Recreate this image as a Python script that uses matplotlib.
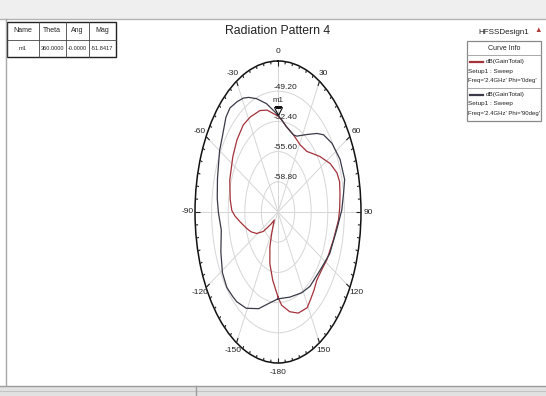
import numpy as np
import matplotlib
matplotlib.use("Agg")
import matplotlib.pyplot as plt
from matplotlib.patches import Rectangle
from matplotlib.lines import Line2D
from matplotlib.transforms import offset_copy

plt.rcParams['font.family'] = ['Liberation Sans Narrow', 'Liberation Sans', 'DejaVu Sans']

# ---- data -------------------------------------------------------------
# Phi = 0 deg cut (theta in degrees, gain in dB)
theta_phi0 = [-180, -172, -164, -157, -152, -146, -140, -134, -130, -126, -119,
              -112, -106, -98, -93, -89, -82, -70, -56, -46, -36, -28, -18,
              -11, 0, 4, 10, 20, 31, 41, 48, 54, 63, 70, 75, 81, 88, 94, 105,
              118, 127, 134, 140, 146, 151, 160, 168, 176]
gain_phi0 = [-53.0, -54.7, -56.3, -58.0, -59.4, -60.4, -60.9, -60.2, -59.6,
             -58.5, -57.3, -56.4, -55.7, -54.6, -53.7, -53.1, -52.7, -52.1,
             -51.5, -51.0, -50.6, -50.6, -50.7, -51.0, -51.84, -52.2, -52.8,
             -53.3, -53.7, -53.5, -52.8, -52.0, -50.7, -49.9, -49.7, -49.9,
             -50.1, -50.3, -50.9, -51.3, -51.6, -51.6, -51.2, -50.8, -50.4,
             -50.6, -51.2, -52.1]

# Phi = 90 deg cut
theta_phi90 = [-180, -169, -160, -149, -140, -136, -129, -121, -111, -100, -90,
               -83, -73, -60, -53, -45, -40, -34, -29, -25, -19, -11, -3, 4,
               10, 20, 24, 34, 42, 47, 55, 65, 75, 81, 89, 99, 114, 127, 142,
               152, 166]
gain_phi90 = [-52.8, -52.1, -51.1, -50.1, -49.6, -49.5, -49.3, -49.5, -50.2,
              -50.9, -50.5, -50.2, -49.8, -49.0, -48.6, -47.8, -47.6, -47.9,
              -48.2, -48.6, -49.3, -50.3, -51.4, -52.2, -52.8, -53.3, -53.2,
              -52.1, -50.8, -50.0, -49.3, -48.8, -48.7, -49.2, -49.7, -50.5,
              -51.1, -51.8, -52.0, -52.3, -52.7]

r_min, r_max = -62.0, -46.0
r_ticks = [-58.8, -55.6, -52.4, -49.2]
theta_ticks = [0, 30, 60, 90, 120, 150, -180, -150, -120, -90, -60, -30]

marker_name = "m1"
marker_theta = 360.0
marker_ang = -0.0
marker_mag = -51.8417

table_header = ["Name", "Theta", "Ang", "Mag"]
table_row = [marker_name, f"{marker_theta:.4f}", "-0.0000", f"{marker_mag:.4f}"]

curve_names = ["dB(GainTotal)", "dB(GainTotal)"]
curve_setups = ["Setup1 : Sweep", "Setup1 : Sweep"]
curve_freqs = ["Freq='2.4GHz' Phi='0deg'", "Freq='2.4GHz' Phi='90deg'"]
curve_colors = ["#a3323a", "#3a3a48"]

# ---- figure -----------------------------------------------------------
W, H = 546, 396
fig = plt.figure(figsize=(W / 100, H / 100), dpi=100)
fig.patch.set_facecolor("white")


def fx(px):
    return px / W


def fy(py):
    return 1 - py / H


# window chrome
fig.add_artist(Rectangle((0, fy(19)), 1, 19 / H, transform=fig.transFigure,
                         facecolor="#efefef", edgecolor="none", zorder=0))
fig.add_artist(Line2D([0, 1], [fy(19), fy(19)], transform=fig.transFigure,
                      color="#b4b4b4", lw=1.0))
fig.add_artist(Line2D([fx(5.5), fx(5.5)], [fy(19), fy(385)], transform=fig.transFigure,
                      color="#a8a8a8", lw=1.0))
fig.add_artist(Rectangle((0, 0), 1, 10 / H, transform=fig.transFigure,
                         facecolor="#e2e2e2", edgecolor="none", zorder=0))
fig.add_artist(Line2D([0, 1], [fy(386), fy(386)], transform=fig.transFigure,
                      color="#9c9c9c", lw=1.0))
fig.add_artist(Line2D([0, 1], [fy(391), fy(391)], transform=fig.transFigure,
                      color="#c4c4c4", lw=0.8))
fig.add_artist(Line2D([fx(196), fx(196)], [fy(386), 0], transform=fig.transFigure,
                      color="#9c9c9c", lw=1.0))

# ---- polar axes (stretched to an ellipse) ------------------------------
ax_w, ax_h = 166, 302
ax = fig.add_axes([fx(195), 33 / H, ax_w / W, ax_h / H], projection="polar")
ax.set_aspect("auto")
ax.set_theta_zero_location("N")
ax.set_theta_direction(-1)
ax.set_ylim(r_min, r_max)
ax.set_facecolor("white")

ax.set_yticks(r_ticks)
ax.set_yticklabels([])
ax.set_xticks(np.deg2rad(np.arange(0, 360, 30)))
ax.set_xticklabels([])
ax.grid(True, color="#d6d6d6", lw=0.7)
ax.tick_params(axis="both", length=0)
ax.spines["polar"].set_color("#111111")
ax.spines["polar"].set_linewidth(1.1)

# short inward rim ticks, constant length in pixels on the ellipse
rx, ry = ax_w / 2, ax_h / 2
for deg in range(0, 360, 5):
    a = np.deg2rad(deg)
    length_px = 5.0 if deg % 30 == 0 else 2.8
    scale = np.hypot(rx * np.sin(a), ry * np.cos(a))
    dr = length_px / scale * (r_max - r_min)
    ax.plot([a, a], [r_max, r_max - dr], color="#222222", lw=0.8,
            solid_capstyle="butt", clip_on=False, zorder=4)

# radial level labels along the 0 deg spoke
for rv in r_ticks:
    ax.annotate(f"{rv:.2f}", (0, rv), xytext=(8, 4), textcoords="offset pixels",
                ha="center", va="center", fontsize=6.0, color="#222222")

# angle labels around the rim
for t in theta_ticks:
    a = np.deg2rad(t)
    ax.annotate(f"{t:d}", (a, r_max), xytext=(7.5 * np.sin(a), 9.5 * np.cos(a)),
                textcoords="offset pixels", ha="center", va="center",
                fontsize=6.0, color="#222222", annotation_clip=False)

# curves
for th, g, c in [(theta_phi0, gain_phi0, curve_colors[0]),
                 (theta_phi90, gain_phi90, curve_colors[1])]:
    th_c = np.deg2rad(np.append(th, th[0] + 360))
    g_c = np.append(g, g[0])
    ax.plot(th_c, g_c, color=c, lw=0.9, zorder=5)

# marker m1
m_tr = offset_copy(ax.transData, fig=fig, x=0, y=5, units="dots")
ax.plot(np.deg2rad(marker_theta), marker_mag, marker="v", ms=5.5, mfc="none",
        mec="#111111", mew=0.8, transform=m_tr, zorder=6)
ax.annotate(marker_name, (np.deg2rad(marker_theta), marker_mag), xytext=(0, 16),
            textcoords="offset pixels", ha="center", va="center", fontsize=5.6,
            color="#222222")

# title and design name
fig.text(fx(278), fy(31), "Radiation Pattern 4", ha="center", va="center",
         fontsize=8.8, color="#222222")
fig.text(fx(504), fy(32), "HFSSDesign1", ha="center", va="center",
         fontsize=5.8, color="#222222")
fig.text(fx(538), fy(31), "\u25B2", ha="center", va="center", fontsize=5.5,
         color="#b04040")

# marker table
col_x = [7, 38.5, 66, 88.5, 116]
row_y = [22, 39.5, 57]
fig.add_artist(Rectangle((fx(col_x[0]), fy(row_y[2])), (col_x[-1] - col_x[0]) / W,
                         (row_y[2] - row_y[0]) / H, transform=fig.transFigure,
                         facecolor="white", edgecolor="#222222", lw=1.0))
for xx in col_x[1:-1]:
    fig.add_artist(Line2D([fx(xx), fx(xx)], [fy(row_y[0]), fy(row_y[2])],
                          transform=fig.transFigure, color="#444444", lw=0.6))
fig.add_artist(Line2D([fx(col_x[0]), fx(col_x[-1])], [fy(row_y[1]), fy(row_y[1])],
                      transform=fig.transFigure, color="#444444", lw=0.6))
for i in range(4):
    cx = (col_x[i] + col_x[i + 1]) / 2
    fig.text(fx(cx), fy((row_y[0] + row_y[1]) / 2), table_header[i], ha="center",
             va="center", fontsize=5.0, color="#222222")
    fig.text(fx(cx), fy((row_y[1] + row_y[2]) / 2), table_row[i], ha="center",
             va="center", fontsize=4.1, color="#222222")

# curve info box
bx0, bx1, by0, by1 = 467, 541, 41, 121
fig.add_artist(Rectangle((fx(bx0), fy(by1)), (bx1 - bx0) / W, (by1 - by0) / H,
                         transform=fig.transFigure, facecolor="white",
                         edgecolor="#8a8a8a", lw=0.9))
fig.text(fx((bx0 + bx1) / 2), fy(48.5), "Curve Info", ha="center", va="center",
         fontsize=5.0, color="#222222")
fig.add_artist(Line2D([fx(bx0), fx(bx1)], [fy(55), fy(55)], transform=fig.transFigure,
                      color="#9a9a9a", lw=0.6))
fig.add_artist(Line2D([fx(bx0), fx(bx1)], [fy(87.5), fy(87.5)], transform=fig.transFigure,
                      color="#9a9a9a", lw=0.6))
for k, y0 in enumerate([62, 94.5]):
    fig.add_artist(Line2D([fx(470), fx(483)], [fy(y0), fy(y0)], transform=fig.transFigure,
                          color=curve_colors[k], lw=1.6))
    fig.text(fx(486), fy(y0), curve_names[k], ha="left", va="center", fontsize=4.6,
             color="#222222")
    fig.text(fx(468.5), fy(y0 + 9), curve_setups[k], ha="left", va="center",
             fontsize=4.6, color="#222222")
    fig.text(fx(468.5), fy(y0 + 18.5), curve_freqs[k], ha="left", va="center",
             fontsize=4.3, color="#222222")

fig.savefig("out.png", dpi=100)
